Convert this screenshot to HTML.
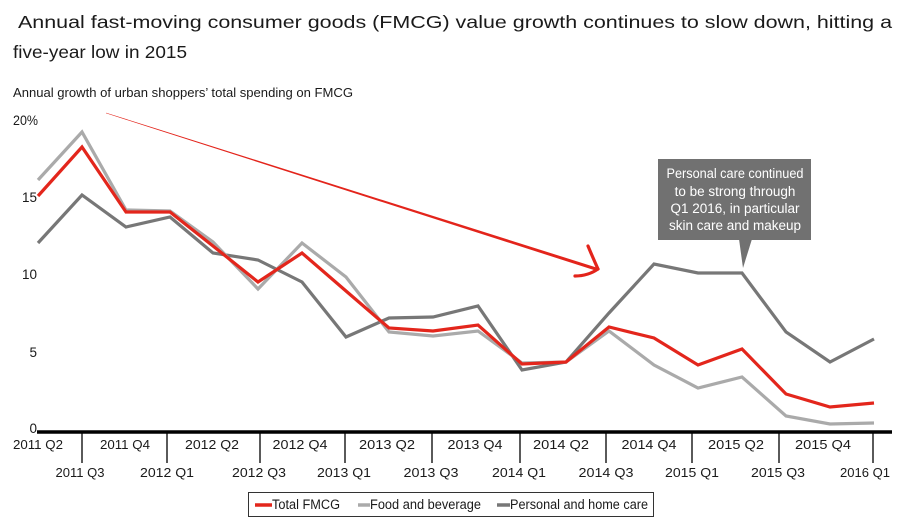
<!DOCTYPE html>
<html>
<head>
<meta charset="utf-8">
<style>
  html,body{margin:0;padding:0;background:#fff;}
  svg{display:block;}
  text{font-family:"Liberation Sans","DejaVu Sans",sans-serif;fill:#1a1a1a;}
</style>
</head>
<body>
<svg width="900" height="523" viewBox="0 0 900 523" xmlns="http://www.w3.org/2000/svg">
  <!-- Title -->
  <text x="18" y="28" font-size="17.5" textLength="874" lengthAdjust="spacingAndGlyphs">Annual fast-moving consumer goods (FMCG) value growth continues to slow down, hitting a</text>
  <text x="13" y="58" font-size="17.5" textLength="174" lengthAdjust="spacingAndGlyphs">five-year low in 2015</text>
  <!-- Subtitle -->
  <text x="13" y="97" font-size="13" textLength="340" lengthAdjust="spacingAndGlyphs">Annual growth of urban shoppers’ total spending on FMCG</text>

  <!-- Y labels -->
  <g font-size="13.5">
    <text x="13" y="125" textLength="25" lengthAdjust="spacingAndGlyphs">20%</text>
    <text x="37" y="202" text-anchor="end">15</text>
    <text x="37" y="279" text-anchor="end">10</text>
    <text x="37" y="357" text-anchor="end">5</text>
    <text x="37" y="433" text-anchor="end">0</text>
  </g>

  <!-- Trend arrow -->
  <polygon points="106,112.7 598,268 597,271 106,113.3" fill="#e3241b"/>
  <path d="M588,246 Q593,258 598,269" stroke="#e3241b" stroke-width="3.2" fill="none" stroke-linecap="round"/>
  <path d="M598,269 Q588,276 575,276" stroke="#e3241b" stroke-width="3.2" fill="none" stroke-linecap="round"/>

  <!-- Series -->
  <g fill="none" stroke-width="3.2" stroke-linejoin="miter">
    <polyline stroke="#777777" points="38,243 82,195 126,227 170,217 213,253 258,260 302,282 346,337 389,318 433,317 478,306 522,370 566,362 609,313 654,264 698,273 742,273 786,332 830,362 874,339"/>
    <polyline stroke="#aaaaaa" points="38,180 82,132 126,210 170,211 213,242 258,289 302,243 346,277 389,332 433,336 478,331 522,363 566,362 609,331 654,365 698,388 742,377 786,416 830,424 874,423"/>
    <polyline stroke="#e3261c" points="38,196 82,147 126,212 170,212 213,246 258,282 302,253 346,291 389,328 433,331 478,325 522,364 566,362 609,327 654,338 698,365 742,349 786,394 830,407 874,403"/>
  </g>

  <!-- Callout -->
  <rect x="658" y="159" width="153" height="81" fill="#717171"/>
  <polygon points="739,239 752,239 743,268" fill="#717171"/>
  <g font-size="13.5" text-anchor="middle" style="fill:#fff">
    <text x="735" y="178" style="fill:#fff" textLength="137" lengthAdjust="spacingAndGlyphs">Personal care continued</text>
    <text x="735" y="196" style="fill:#fff">to be strong through</text>
    <text x="735" y="213" style="fill:#fff">Q1 2016, in particular</text>
    <text x="735" y="230" style="fill:#fff">skin care and makeup</text>
  </g>

  <!-- X axis -->
  <line x1="37" y1="432" x2="892" y2="432" stroke="#000" stroke-width="3.5"/>
  <g stroke="#000" stroke-width="1.3">
    <line x1="82" y1="432" x2="82" y2="463"/>
    <line x1="167" y1="432" x2="167" y2="463"/>
    <line x1="260" y1="432" x2="260" y2="463"/>
    <line x1="345" y1="432" x2="345" y2="463"/>
    <line x1="432" y1="432" x2="432" y2="463"/>
    <line x1="520" y1="432" x2="520" y2="463"/>
    <line x1="606" y1="432" x2="606" y2="463"/>
    <line x1="692" y1="432" x2="692" y2="463"/>
    <line x1="779" y1="432" x2="779" y2="463"/>
    <line x1="873" y1="432" x2="873" y2="463"/>
  </g>
  <g font-size="13" text-anchor="middle">
    <text x="38" y="449" textLength="50" lengthAdjust="spacingAndGlyphs">2011 Q2</text>
    <text x="125" y="449" textLength="50" lengthAdjust="spacingAndGlyphs">2011 Q4</text>
    <text x="212" y="449" textLength="54" lengthAdjust="spacingAndGlyphs">2012 Q2</text>
    <text x="300" y="449" textLength="55" lengthAdjust="spacingAndGlyphs">2012 Q4</text>
    <text x="387" y="449" textLength="56" lengthAdjust="spacingAndGlyphs">2013 Q2</text>
    <text x="475" y="449" textLength="55" lengthAdjust="spacingAndGlyphs">2013 Q4</text>
    <text x="561" y="449" textLength="56" lengthAdjust="spacingAndGlyphs">2014 Q2</text>
    <text x="649" y="449" textLength="55" lengthAdjust="spacingAndGlyphs">2014 Q4</text>
    <text x="736" y="449" textLength="56" lengthAdjust="spacingAndGlyphs">2015 Q2</text>
    <text x="823" y="449" textLength="56" lengthAdjust="spacingAndGlyphs">2015 Q4</text>

    <text x="80" y="477" textLength="49" lengthAdjust="spacingAndGlyphs">2011 Q3</text>
    <text x="167" y="477" textLength="54" lengthAdjust="spacingAndGlyphs">2012 Q1</text>
    <text x="259" y="477" textLength="54" lengthAdjust="spacingAndGlyphs">2012 Q3</text>
    <text x="344" y="477" textLength="54" lengthAdjust="spacingAndGlyphs">2013 Q1</text>
    <text x="431" y="477" textLength="55" lengthAdjust="spacingAndGlyphs">2013 Q3</text>
    <text x="519" y="477" textLength="54" lengthAdjust="spacingAndGlyphs">2014 Q1</text>
    <text x="606" y="477" textLength="55" lengthAdjust="spacingAndGlyphs">2014 Q3</text>
    <text x="692" y="477" textLength="54" lengthAdjust="spacingAndGlyphs">2015 Q1</text>
    <text x="778" y="477" textLength="54" lengthAdjust="spacingAndGlyphs">2015 Q3</text>
    <text x="865" y="477" textLength="50" lengthAdjust="spacingAndGlyphs">2016 Q1</text>
  </g>

  <!-- Legend -->
  <rect x="248.5" y="492.5" width="405" height="24" fill="#fff" stroke="#333" stroke-width="1"/>
  <line x1="255" y1="505" x2="272" y2="505" stroke="#e3261c" stroke-width="3.5"/>
  <line x1="358" y1="505" x2="370" y2="505" stroke="#aaaaaa" stroke-width="3.5"/>
  <line x1="497" y1="505" x2="510" y2="505" stroke="#777777" stroke-width="3.5"/>
  <g font-size="13.5">
    <text x="272" y="509" textLength="68" lengthAdjust="spacingAndGlyphs">Total FMCG</text>
    <text x="370" y="509" textLength="111" lengthAdjust="spacingAndGlyphs">Food and beverage</text>
    <text x="510" y="509" textLength="138" lengthAdjust="spacingAndGlyphs">Personal and home care</text>
  </g>
</svg>
</body>
</html>
